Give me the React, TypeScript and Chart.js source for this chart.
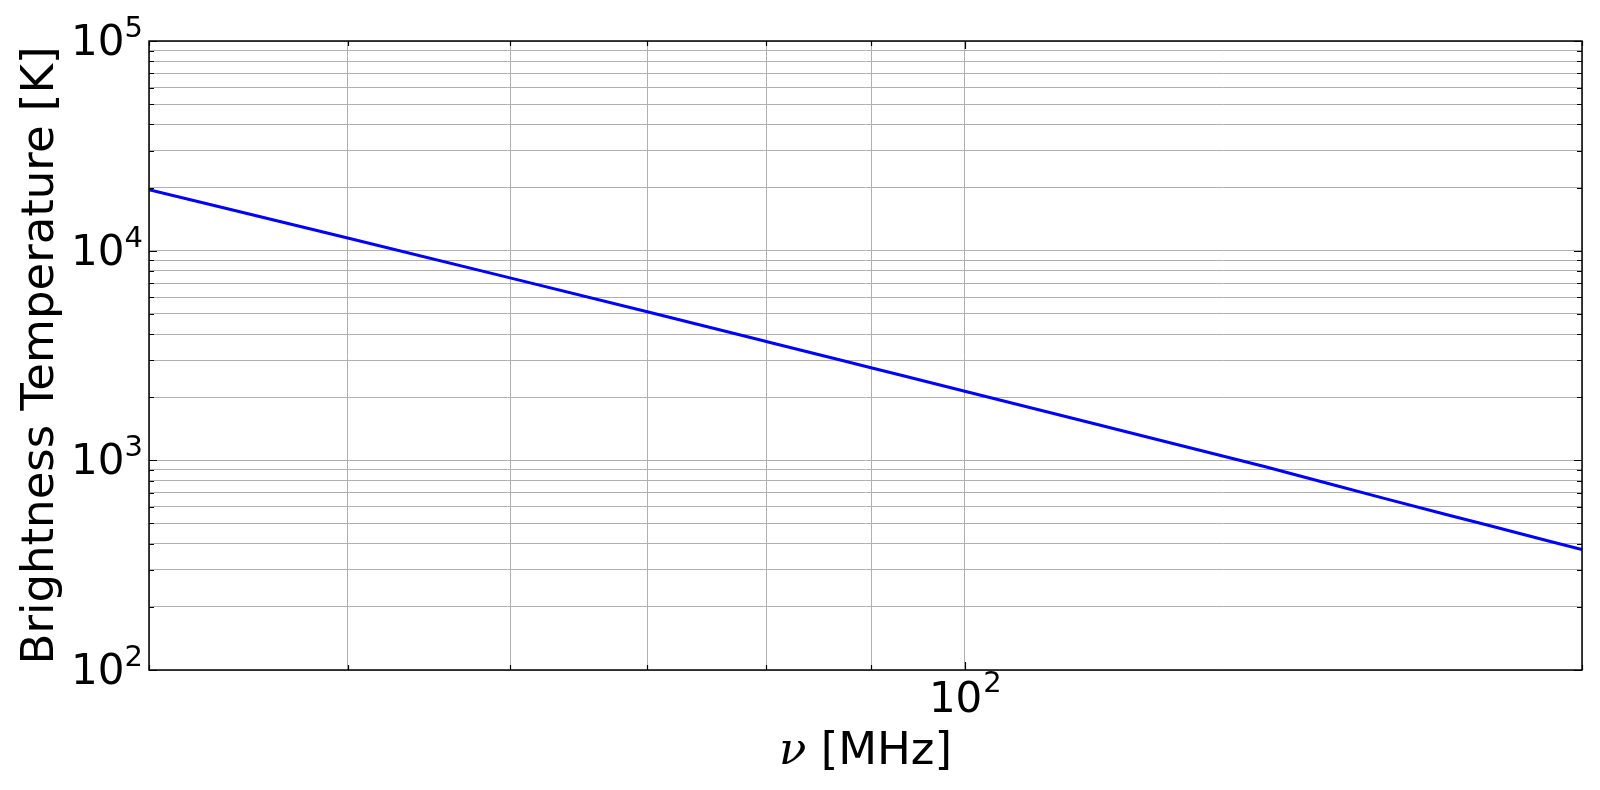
import React, { useEffect, useRef } from "react";
import { Chart, registerables } from "chart.js";

Chart.register(...registerables);

// Data
const frequenciesMHz = [40, 50, 60, 70, 80, 90, 100, 120, 140, 160, 180, 200];
const brightnessK = [19540, 11500, 7420, 5110, 3690, 2766, 2137, 1365, 934, 660, 490, 375];

const xTickValues = [40, 50, 60, 70, 80, 90, 100, 200];
const xMajorTicks = [100];
const xTickLabels = [{ value: 100, base: "10", exp: "2" }];

const yTickValues = [
  100, 200, 300, 400, 500, 600, 700, 800, 900,
  1000, 2000, 3000, 4000, 5000, 6000, 7000, 8000, 9000,
  10000, 20000, 30000, 40000, 50000, 60000, 70000, 80000, 90000,
  100000,
];
const yMajorTicks = [100, 1000, 10000, 100000];
const yTickLabels = [
  { value: 100, base: "10", exp: "2" },
  { value: 1000, base: "10", exp: "3" },
  { value: 10000, base: "10", exp: "4" },
  { value: 100000, base: "10", exp: "5" },
];

const xTitleSymbol = "ν";
const xTitleRest = " [MHz]";
const yTitle = "Brightness Temperature [K]";

const SANS = "'DejaVu Sans', sans-serif";

const decoPlugin = {
  id: "decoPlugin",
  afterDraw(chart: any) {
    const { ctx, chartArea: a } = chart;
    const xs = chart.scales.x;
    const ys = chart.scales.y;
    ctx.save();

    // inward tick marks on all four sides
    ctx.strokeStyle = "#000";
    ctx.lineWidth = 1.2;
    ctx.beginPath();
    for (const v of xTickValues) {
      const px = Math.round(xs.getPixelForValue(v)) + 0.5;
      const len = xMajorTicks.includes(v) ? 8 : 5;
      ctx.moveTo(px, a.bottom);
      ctx.lineTo(px, a.bottom - len);
      ctx.moveTo(px, a.top);
      ctx.lineTo(px, a.top + len);
    }
    for (const v of yTickValues) {
      const py = Math.round(ys.getPixelForValue(v)) + 0.5;
      const len = yMajorTicks.includes(v) ? 8 : 5;
      ctx.moveTo(a.left, py);
      ctx.lineTo(a.left + len, py);
      ctx.moveTo(a.right, py);
      ctx.lineTo(a.right - len, py);
    }
    ctx.stroke();

    // frame
    ctx.strokeStyle = "#000";
    ctx.lineWidth = 1.5;
    ctx.strokeRect(a.left, a.top, a.right - a.left, a.bottom - a.top);

    // tick labels with superscripts
    ctx.fillStyle = "#000";
    ctx.textBaseline = "alphabetic";
    const baseFont = `42px ${SANS}`;
    const expFont = `29px ${SANS}`;

    for (const t of yTickLabels) {
      const py = ys.getPixelForValue(t.value);
      ctx.font = expFont;
      const we = ctx.measureText(t.exp).width;
      ctx.font = baseFont;
      const wb = ctx.measureText(t.base).width;
      const right = a.left - 6;
      ctx.textAlign = "left";
      ctx.font = baseFont;
      ctx.fillText(t.base, right - we - wb, py + 14);
      ctx.font = expFont;
      ctx.fillText(t.exp, right - we, py - 4);
    }

    for (const t of xTickLabels) {
      const px = xs.getPixelForValue(t.value);
      ctx.font = expFont;
      const we = ctx.measureText(t.exp).width;
      ctx.font = baseFont;
      const wb = ctx.measureText(t.base).width;
      const start = px - (wb + we) / 2;
      ctx.textAlign = "left";
      ctx.font = baseFont;
      ctx.fillText(t.base, start, a.bottom + 42);
      ctx.font = expFont;
      ctx.fillText(t.exp, start + wb + 1, a.bottom + 22);
    }

    // x title
    const symFont = `italic 45px 'DejaVu Serif', serif`;
    const restFont = `45px ${SANS}`;
    ctx.font = symFont;
    const ws = ctx.measureText(xTitleSymbol).width;
    ctx.font = restFont;
    const wr = ctx.measureText(xTitleRest).width;
    const cx = (a.left + a.right) / 2;
    const startX = cx - (ws + wr) / 2;
    ctx.textAlign = "left";
    ctx.font = symFont;
    ctx.fillText(xTitleSymbol, startX, a.bottom + 94);
    ctx.font = restFont;
    ctx.fillText(xTitleRest, startX + ws, a.bottom + 94);

    // y title
    ctx.save();
    ctx.translate(53, (a.top + a.bottom) / 2);
    ctx.rotate(-Math.PI / 2);
    ctx.textAlign = "center";
    ctx.font = `45px ${SANS}`;
    ctx.fillText(yTitle, 0, 0);
    ctx.restore();

    ctx.restore();
  },
};

export default function App() {
  const canvasRef = useRef<HTMLCanvasElement | null>(null);

  useEffect(() => {
    document.body.style.margin = "0";
    const canvas = canvasRef.current;
    if (!canvas) return;
    const points = frequenciesMHz.map((f, i) => ({ x: f, y: brightnessK[i] }));
    const chart = new Chart(canvas, {
      type: "line",
      data: {
        datasets: [
          {
            data: points,
            borderColor: "#0000ff",
            borderWidth: 3,
            pointRadius: 0,
            tension: 0.4,
            cubicInterpolationMode: "monotone",
            fill: false,
          },
        ],
      },
      options: {
        animation: false,
        responsive: false,
        devicePixelRatio: 1,
        layout: { padding: { left: 0, top: 41, right: 18, bottom: 0 } },
        plugins: {
          legend: { display: false },
          tooltip: { enabled: false },
          title: { display: false },
        },
        scales: {
          x: {
            type: "logarithmic",
            min: 40,
            max: 200,
            afterBuildTicks: (scale: any) => {
              scale.ticks = xTickValues.map((v) => ({ value: v }));
            },
            afterFit: (scale: any) => {
              scale.height = 120;
            },
            ticks: { display: false },
            grid: { color: "#b0b0b0", lineWidth: 1, drawTicks: false },
            border: { display: false },
          },
          y: {
            type: "logarithmic",
            min: 100,
            max: 100000,
            afterBuildTicks: (scale: any) => {
              scale.ticks = yTickValues.map((v) => ({ value: v }));
            },
            afterFit: (scale: any) => {
              scale.width = 149;
            },
            ticks: { display: false },
            grid: { color: "#b0b0b0", lineWidth: 1, drawTicks: false },
            border: { display: false },
          },
        },
      },
      plugins: [decoPlugin],
    });
    return () => chart.destroy();
  }, []);

  return (
    <div style={{ position: "absolute", left: 0, top: 0, width: 1600, height: 790, background: "#fff" }}>
      <canvas ref={canvasRef} width={1600} height={790} style={{ width: 1600, height: 790 }} />
    </div>
  );
}
